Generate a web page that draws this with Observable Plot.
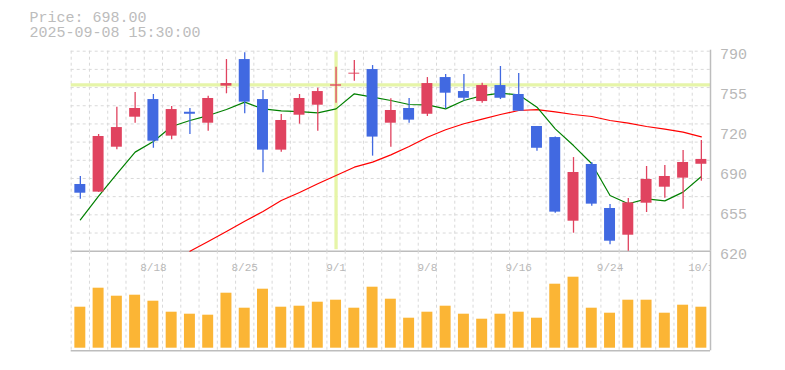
<!DOCTYPE html>
<html>
<head>
<meta charset="utf-8">
<script src="https://cdn.jsdelivr.net/npm/d3@7"></script>
<script src="https://cdn.jsdelivr.net/npm/@observablehq/plot@0.6"></script>
<style>
  html, body { margin: 0; padding: 0; background: #fff; }
  #wrap { position: relative; width: 785px; height: 370px; background: #fff; overflow: hidden; }
  #wrap svg { position: absolute; left: 0; }
  #title { position: absolute; left: 29.5px; top: 11px; font: 15px/15px "Liberation Mono", monospace; color: #bcbcbc; white-space: pre; z-index: 5; }
</style>
</head>
<body>
<div id="wrap"><div id="title"></div></div>
<script>
// ---- data ----
const dates = ["8/12","8/13","8/14","8/15","8/18","8/19","8/20","8/21","8/22","8/25","8/26","8/27","8/28","8/29","9/1","9/2","9/3","9/4","9/5","9/8","9/9","9/10","9/11","9/12","9/16","9/17","9/18","9/19","9/22","9/24","9/25","9/26","9/29","9/30","10/1"];
const open  = [676.7,670.2,708.4,733.9,748.9,717.8,738.1,728.8,760.3,782.9,748.9,705.9,735.6,744.1,760.3,770.5,774.4,728.8,741.3,736.4,767.6,755.7,747.2,760.8,753.2,726.0,716.6,645.5,693.7,656.3,633.6,660.8,674.4,682.1,693.9];
const close = [669.3,717.5,725.1,741.3,713.5,740.4,736.4,749.8,762.5,746.7,705.9,731.1,749.8,755.7,761.4,771.3,717.0,739.6,731.4,762.5,754.3,750.0,760.8,750.0,739.0,707.5,653.2,686.9,660.0,628.5,661.1,681.0,683.5,695.4,698.0];
const high  = [683.5,719.2,742.4,754.9,753.2,743.0,741.3,751.8,782.9,788.6,756.6,736.2,753.2,758.6,776.4,782.1,777.8,749.5,749.8,767.6,770.2,770.2,762.8,777.0,771.0,726.0,717.0,699.6,695.4,659.7,664.8,692.0,692.8,705.6,714.1];
const low   = [664.2,670.0,706.2,728.8,707.5,714.7,719.2,722.0,753.8,736.8,686.6,704.2,728.0,722.0,745.8,764.5,700.8,708.4,728.8,734.5,741.0,747.5,745.8,748.9,739.0,705.0,652.3,635.3,658.3,625.4,620.0,652.9,665.0,655.7,679.5];
const ma5   = [646.7,666.8,685.8,704.2,713.2,726.0,731.1,735.3,740.4,746.7,741.0,739.3,738.7,737.6,741.0,753.8,750.9,748.1,744.7,744.4,741.0,748.1,752.3,754.3,752.9,742.4,724.0,709.8,694.3,667.3,660.3,664.5,662.8,670.2,683.5];
const ma25  = [null,null,null,null,null,null,620.0,628.3,636.8,645.5,653.7,663.1,669.9,677.3,684.3,691.4,695.7,701.9,709.0,716.9,723.2,728.3,732.2,736.2,739.6,740.4,738.5,736.2,734.5,731.1,728.8,726.0,723.7,721.2,717.2];
const volume = [41,60,52,53,47,36,34,33,55,40,59,41,42,46,48,40,61,49,30,36,42,34,29,34,36,30,64,71,40,35,48,48,35,43,41];
const xTickLabels = ["8/18","8/25","9/1","9/8","9/16","9/24","10/1"];
const yTickValues = [620,654,688,722,756,790];
const yTickLabels = ["620","655","690","720","755","790"];
const priceDomain = [620, 790];
const volDomain = [-2.6, 97];
const crossDate = "9/1";
const crossPrice = 761.4;
const titleLines = ["Price: 698.00", "2025-09-08 15:30:00"];

// ---- styles ----
const UP = "#e0435f", DOWN = "#4169e1", VOL = "#fbb535";
const GRID = "#d9d9d9", FRAME = "#bdbdbd", TEXT = "#b8b8b8", CROSS = "#e6f5a8";
const FONT = "'Liberation Mono', monospace";

const N = dates.length;
const data = dates.map((d, i) => ({
  i, date: d, open: open[i], close: close[i], high: high[i], low: low[i],
  ma5: ma5[i], ma25: ma25[i], vol: volume[i],
  color: close[i] >= open[i] ? UP : DOWN
}));
const hGrid = d3.range(1, 12).map(k => priceDomain[0] + k * (priceDomain[1] - priceDomain[0]) / 11);
const vGrid = d3.range(N).map(i => i - 0.5);
const crossIdx = dates.indexOf(crossDate);

document.getElementById("title").textContent = titleLines.join("\n");

const common = {
  width: 785,
  marginLeft: 70.7,
  marginRight: 75,
  x: { type: "linear", domain: [-0.5, N - 0.5], axis: null },
  color: { type: "identity" },
  style: { background: "transparent", overflow: "visible", fontFamily: FONT }
};

const price = Plot.plot({
  ...common,
  height: 270,
  marginTop: 50.7,
  marginBottom: 19.3,
  y: { domain: priceDomain, axis: null },
  marks: [
    Plot.ruleY(hGrid, { stroke: GRID, strokeDasharray: "3,3" }),
    Plot.ruleX(vGrid, { stroke: GRID, strokeDasharray: "3,3" }),
    Plot.ruleY([crossPrice], { stroke: CROSS, strokeWidth: 3.3 }),
    Plot.ruleX([crossIdx], { stroke: CROSS, strokeWidth: 3.3, insetTop: 1, insetBottom: 1.5 }),
    Plot.ruleX([N - 0.5], { stroke: FRAME, strokeWidth: 1.5, insetTop: -1 }),
    Plot.ruleY([priceDomain[0]], { stroke: FRAME, strokeWidth: 1.5 }),
    Plot.line(data, { x: "i", y: "ma25", stroke: "#ff0000", strokeWidth: 1.2 }),
    Plot.line(data, { x: "i", y: "ma5", stroke: "#008000", strokeWidth: 1.2 }),
    Plot.ruleX(data, { x: "i", y1: "low", y2: "high", stroke: "color", strokeWidth: 1.3 }),
    Plot.rect(data, { x1: d => d.i - 0.3, x2: d => d.i + 0.3, y1: "open", y2: "close", fill: "color" }),
    Plot.text(yTickValues, {
      x: N - 0.5, y: d => d, text: (d, i) => yTickLabels[i],
      textAnchor: "start", dx: 9.5, dy: 2.5, fontSize: 15, fill: TEXT
    })
  ]
});
price.style.top = "0px";

const vol = Plot.plot({
  ...common,
  height: 130,
  marginTop: 10.7,
  marginBottom: 19.7,
  y: { domain: volDomain, axis: null },
  marks: [
    Plot.ruleX(vGrid, { stroke: GRID, strokeDasharray: "3,3" }),
    Plot.ruleX([N - 0.5], { stroke: FRAME, strokeWidth: 1.5 }),
    Plot.ruleY([volDomain[0]], { stroke: FRAME, strokeWidth: 1.5 }),
    Plot.rect(data, { x1: d => d.i - 0.3, x2: d => d.i + 0.3, y1: 0, y2: "vol", fill: VOL }),
    Plot.text(xTickLabels, {
      x: d => dates.indexOf(d), frameAnchor: "top", dy: 11.5,
      text: d => d, fontSize: 11, fill: TEXT, clip: "frame"
    })
  ]
});
vol.style.top = "240px";

const wrap = document.getElementById("wrap");
wrap.appendChild(price);
wrap.appendChild(vol);
</script>
</body>
</html>
